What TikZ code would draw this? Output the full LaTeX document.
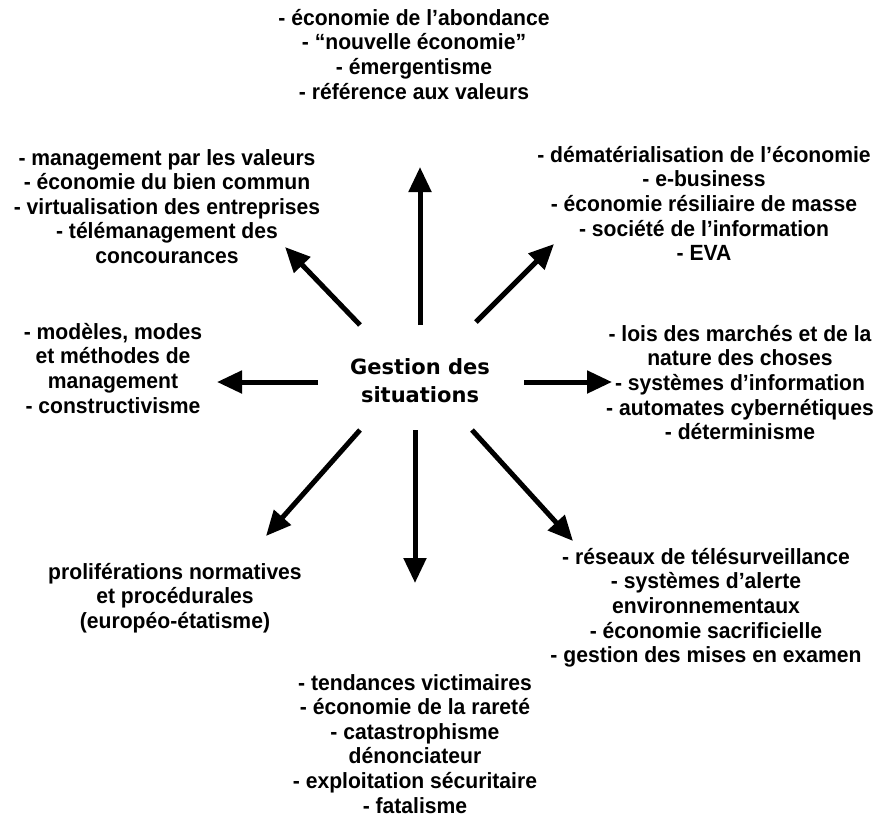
\documentclass[tikz,border=0pt]{standalone}
\usepackage{fontspec}
\setmainfont{Liberation Sans}
\newfontfamily\lab{Liberation Sans}[FakeStretch=0.96]
\newfontfamily\ctr{DejaVu Sans}
\usetikzlibrary{arrows.meta}
\begin{document}
\begin{tikzpicture}[x=1pt,y=-1pt,
  lbl/.style={align=center,anchor=north,inner sep=0pt,
    font=\lab\bfseries\fontsize{22}{24.6}\selectfont},
  hub/.style={align=center,inner sep=0pt,
    font=\ctr\bfseries\fontsize{21}{28}\selectfont},
  arr/.style={line width=5pt,-{Triangle[length=25pt,width=22pt]}}]
\useasboundingbox (0,0) rectangle (880,820);
\node[hub] (c) at (420,381) {Gestion des\\situations};
\node[lbl] (t) at (414,9) {- économie de l’abondance\\- “nouvelle économie”\\- émergentisme\\- référence aux valeurs};
\node[lbl] (ul) at (167,149) {- management par les valeurs\\- économie du bien commun\\- virtualisation des entreprises\\- télémanagement des\\concourances};
\node[lbl] (ur) at (704,146) {- dématérialisation de l’économie\\- e-business\\- économie résiliaire de masse\\- société de l’information\\- EVA};
\node[lbl] (l) at (113,323) {- modèles, modes\\et méthodes de\\management\\- constructivisme};
\node[lbl] (r) at (740,325) {- lois des marchés et de la\\nature des choses\\- systèmes d’information\\- automates cybernétiques\\- déterminisme};
\node[lbl] (ll) at (175,563) {proliférations normatives\\et procédurales\\(européo-étatisme)};
\node[lbl] (lr) at (706,548) {- réseaux de télésurveillance\\- systèmes d’alerte\\environnementaux\\- économie sacrificielle\\- gestion des mises en examen};
\node[lbl] (b) at (415,674) {- tendances victimaires\\- économie de la rareté\\- catastrophisme\\dénonciateur\\- exploitation sécuritaire\\- fatalisme};
\coordinate (sN) at (420,325); \coordinate (eN) at (420,167);
\coordinate (sNW) at (360,325); \coordinate (eNW) at (285,247);
\coordinate (sNE) at (476,322); \coordinate (eNE) at (554,244);
\coordinate (sW) at (318,382); \coordinate (eW) at (217,382);
\coordinate (sE) at (524,382); \coordinate (eE) at (612,382);
\coordinate (sSW) at (360,430); \coordinate (eSW) at (266,536);
\coordinate (sS) at (415,430); \coordinate (eS) at (415,583);
\coordinate (sSE) at (472,430); \coordinate (eSE) at (573,541);
\foreach \d in {N,NW,NE,W,E,SW,S,SE} \draw[arr] (s\d) -- (e\d);
\end{tikzpicture}
\end{document}
